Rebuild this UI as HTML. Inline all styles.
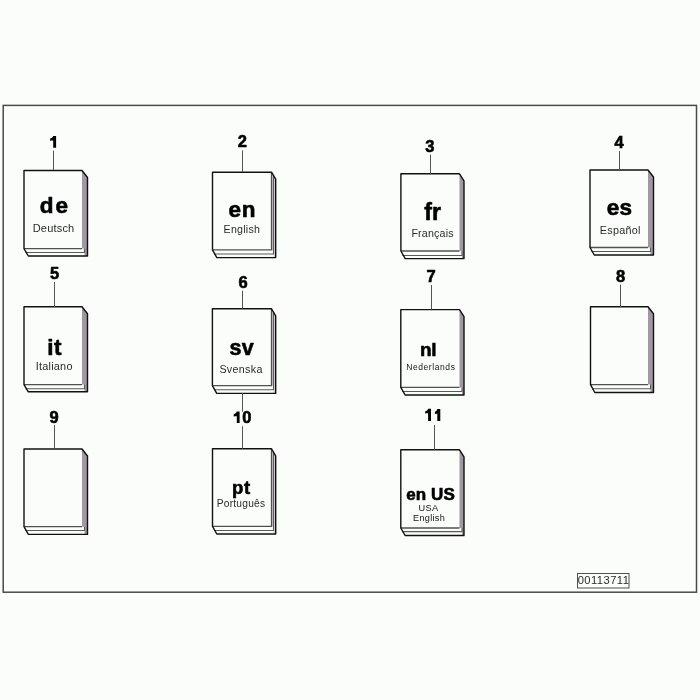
<!DOCTYPE html>
<html><head><meta charset="utf-8"><style>
html,body{margin:0;padding:0;background:#fbfdfb;}
svg{display:block;will-change:transform;font-family:"Liberation Sans",sans-serif;}
</style></head><body>
<svg width="700" height="700" viewBox="0 0 700 700">
<rect width="700" height="700" fill="#fbfdfb"/>
<rect x="3.2" y="105.4" width="693.3" height="486.8" fill="none" stroke="#4a4a4a" stroke-width="1.5"/>
<path d="M82,170.5 L87.5,177.5 V256 H84.5 V248.6 H82 Z" fill="#a098a0"/>
<path d="M25.5,252.5 H84.5 V248.6" fill="none" stroke="#5a5a5a" stroke-width="1.1"/>
<path d="M24,248.6 H82" fill="none" stroke="#505050" stroke-width="1.3"/>
<path d="M24,170.5 H82 L87.5,177.5 V256 H28.3 L24,248.6 Z" fill="none" stroke="#111" stroke-width="1.4" stroke-linejoin="round"/>
<path d="M271.5,172.2 L275.7,179.2 V257.6 H273.5 V249.9 H271.5 Z" fill="#d4d0d4"/>
<path d="M214.0,254 H273.5 V176.2" fill="none" stroke="#5a5a5a" stroke-width="1.1"/>
<path d="M271.5,172.2 V249.9 H212.5" fill="none" stroke="#505050" stroke-width="1.3"/>
<path d="M212.5,172.2 H271.5 L275.7,179.2 V257.6 H216.8 L212.5,249.9 Z" fill="none" stroke="#111" stroke-width="1.4" stroke-linejoin="round"/>
<path d="M459.5,173.8 L464,180.8 V258.6 H462.0 V251 H459.5 Z" fill="#a098a0"/>
<path d="M402.4,255.5 H462.0 V251" fill="none" stroke="#5a5a5a" stroke-width="1.1"/>
<path d="M400.9,251 H459.5" fill="none" stroke="#505050" stroke-width="1.3"/>
<path d="M400.9,173.8 H459.5 L464,180.8 V258.6 H405.2 L400.9,251 Z" fill="none" stroke="#111" stroke-width="1.4" stroke-linejoin="round"/>
<path d="M648,170 L653.5,177.0 V255 H650.5 V247.5 H648 Z" fill="#a098a0"/>
<path d="M591.5,251.5 H650.5 V247.5" fill="none" stroke="#5a5a5a" stroke-width="1.1"/>
<path d="M590,247.5 H648" fill="none" stroke="#505050" stroke-width="1.3"/>
<path d="M590,170 H648 L653.5,177.0 V255 H594.3 L590,247.5 Z" fill="none" stroke="#111" stroke-width="1.4" stroke-linejoin="round"/>
<path d="M82,306.8 L87.5,313.8 V391.8 H84.5 V384.6 H82 Z" fill="#a098a0"/>
<path d="M25.5,388.8 H84.5 V384.6" fill="none" stroke="#5a5a5a" stroke-width="1.1"/>
<path d="M24,384.6 H82" fill="none" stroke="#505050" stroke-width="1.3"/>
<path d="M24,306.8 H82 L87.5,313.8 V391.8 H28.3 L24,384.6 Z" fill="none" stroke="#111" stroke-width="1.4" stroke-linejoin="round"/>
<path d="M271.5,308.8 L275.7,315.8 V393.4 H273.5 V385.6 H271.5 Z" fill="#d4d0d4"/>
<path d="M213.9,389.8 H273.5 V312.8" fill="none" stroke="#5a5a5a" stroke-width="1.1"/>
<path d="M271.5,308.8 V385.6 H212.4" fill="none" stroke="#505050" stroke-width="1.3"/>
<path d="M212.4,308.8 H271.5 L275.7,315.8 V393.4 H216.70000000000002 L212.4,385.6 Z" fill="none" stroke="#111" stroke-width="1.4" stroke-linejoin="round"/>
<path d="M459.5,309.6 L464,316.6 V395 H462.0 V387.4 H459.5 Z" fill="#a098a0"/>
<path d="M402.3,391.5 H462.0 V387.4" fill="none" stroke="#5a5a5a" stroke-width="1.1"/>
<path d="M400.8,387.4 H459.5" fill="none" stroke="#505050" stroke-width="1.3"/>
<path d="M400.8,309.6 H459.5 L464,316.6 V395 H405.1 L400.8,387.4 Z" fill="none" stroke="#111" stroke-width="1.4" stroke-linejoin="round"/>
<path d="M648,306.7 L653.5,313.7 V392.5 H650.5 V384.6 H648 Z" fill="#a098a0"/>
<path d="M592.0,388.8 H650.5 V384.6" fill="none" stroke="#5a5a5a" stroke-width="1.1"/>
<path d="M590.5,384.6 H648" fill="none" stroke="#505050" stroke-width="1.3"/>
<path d="M590.5,306.7 H648 L653.5,313.7 V392.5 H594.8 L590.5,384.6 Z" fill="none" stroke="#111" stroke-width="1.4" stroke-linejoin="round"/>
<path d="M82,449 L87.5,456.0 V534.4 H84.5 V526.7 H82 Z" fill="#a098a0"/>
<path d="M25.5,530.5 H84.5 V526.7" fill="none" stroke="#5a5a5a" stroke-width="1.1"/>
<path d="M24,526.7 H82" fill="none" stroke="#505050" stroke-width="1.3"/>
<path d="M24,449 H82 L87.5,456.0 V534.4 H28.3 L24,526.7 Z" fill="none" stroke="#111" stroke-width="1.4" stroke-linejoin="round"/>
<path d="M271.5,448.8 L275.7,455.8 V534 H273.5 V526.4 H271.5 Z" fill="#d4d0d4"/>
<path d="M214.0,530.5 H273.5 V452.8" fill="none" stroke="#5a5a5a" stroke-width="1.1"/>
<path d="M271.5,448.8 V526.4 H212.5" fill="none" stroke="#505050" stroke-width="1.3"/>
<path d="M212.5,448.8 H271.5 L275.7,455.8 V534 H216.8 L212.5,526.4 Z" fill="none" stroke="#111" stroke-width="1.4" stroke-linejoin="round"/>
<path d="M459.5,449.8 L464,456.8 V535.5 H462.0 V528 H459.5 Z" fill="#a098a0"/>
<path d="M402.3,531.6 H462.0 V528" fill="none" stroke="#5a5a5a" stroke-width="1.1"/>
<path d="M400.8,528 H459.5" fill="none" stroke="#505050" stroke-width="1.3"/>
<path d="M400.8,449.8 H459.5 L464,456.8 V535.5 H405.1 L400.8,528 Z" fill="none" stroke="#111" stroke-width="1.4" stroke-linejoin="round"/>
<line x1="53.5" y1="150.6" x2="53.5" y2="170" stroke="#555" stroke-width="1"/>
<line x1="242.5" y1="150.4" x2="242.5" y2="172" stroke="#555" stroke-width="1"/>
<line x1="430.5" y1="154.6" x2="430.5" y2="173.6" stroke="#555" stroke-width="1"/>
<line x1="619.5" y1="151" x2="619.5" y2="170" stroke="#555" stroke-width="1"/>
<line x1="54.5" y1="282" x2="54.5" y2="307" stroke="#555" stroke-width="1"/>
<line x1="242.5" y1="290.7" x2="242.5" y2="308.6" stroke="#555" stroke-width="1"/>
<line x1="431.5" y1="285" x2="431.5" y2="309.5" stroke="#555" stroke-width="1"/>
<line x1="620.5" y1="284.6" x2="620.5" y2="307" stroke="#555" stroke-width="1"/>
<line x1="54.5" y1="425.1" x2="54.5" y2="448.7" stroke="#555" stroke-width="1"/>
<line x1="242.5" y1="426.3" x2="242.5" y2="448.8" stroke="#555" stroke-width="1"/>
<line x1="242.5" y1="393" x2="242.5" y2="411.7" stroke="#555" stroke-width="1"/>
<line x1="434.5" y1="425.1" x2="434.5" y2="449.9" stroke="#555" stroke-width="1"/>
<rect x="577.5" y="573.5" width="51.5" height="14.5" fill="none" stroke="#505050" stroke-width="1"/>
<path d="M56.1,136 V147.8 H53.2 V140.6 C52.400000000000006,140.5 50.9,140.7 50.1,140.8 V138.6 C51.6,138.4 52.7,137.2 53.2,136 Z" fill="#000"/>
<path d="M239.6,411.6 V423.1 H236.8 V416.20000000000005 C236.0,416.1 234.5,416.3 233.7,416.40000000000003 V414.20000000000005 C235.2,414.0 236.3,412.8 236.8,411.6 Z" fill="#000"/>
<path d="M431,408.7 V420.9 H428.1 V413.3 C427.3,413.2 426.0,413.4 425.2,413.5 V411.3 C426.7,411.09999999999997 427.6,409.9 428.1,408.7 Z" fill="#000"/>
<path d="M440.3,409.1 V421 H437.3 V413.70000000000005 C436.5,413.6 435.7,413.8 434.9,413.90000000000003 V411.70000000000005 C436.4,411.5 436.8,410.3 437.3,409.1 Z" fill="#000"/>
<text x="39.80" y="213.40" font-size="22.5" font-weight="bold" fill="#000" letter-spacing="1.90" stroke="#000" stroke-width="0.6" stroke-linejoin="round">de</text>
<text x="32.70" y="231.60" font-size="11" font-weight="normal" fill="#2a2a2a" letter-spacing="0.20">Deutsch</text>
<text x="228.40" y="217.20" font-size="22.5" font-weight="bold" fill="#000" letter-spacing="0.94" stroke="#000" stroke-width="0.6" stroke-linejoin="round">en</text>
<text x="223.60" y="233.20" font-size="10.6" font-weight="normal" fill="#2a2a2a" letter-spacing="0.26">English</text>
<text x="424.20" y="220.40" font-size="23" font-weight="bold" fill="#000" letter-spacing="0.18" stroke="#000" stroke-width="0.6" stroke-linejoin="round">fr</text>
<text x="411.40" y="236.70" font-size="10.7" font-weight="normal" fill="#2a2a2a" letter-spacing="0.17">Français</text>
<text x="606.80" y="215.00" font-size="22.5" font-weight="bold" fill="#000" letter-spacing="0.18" stroke="#000" stroke-width="0.6" stroke-linejoin="round">es</text>
<text x="599.80" y="234.00" font-size="10.8" font-weight="normal" fill="#2a2a2a" letter-spacing="0.28">Español</text>
<text x="47.20" y="355.00" font-size="22.5" font-weight="bold" fill="#000" letter-spacing="0.64" stroke="#000" stroke-width="0.6" stroke-linejoin="round">it</text>
<text x="35.80" y="370.30" font-size="10.9" font-weight="normal" fill="#2a2a2a" letter-spacing="0.22">Italiano</text>
<text x="229.50" y="355.40" font-size="21.5" font-weight="bold" fill="#000" letter-spacing="0.30" stroke="#000" stroke-width="0.6" stroke-linejoin="round">sv</text>
<text x="219.40" y="372.50" font-size="10.7" font-weight="normal" fill="#2a2a2a" letter-spacing="0.34">Svenska</text>
<text x="419.90" y="356.00" font-size="19" font-weight="bold" fill="#000" letter-spacing="-0.16" stroke="#000" stroke-width="0.6" stroke-linejoin="round">nl</text>
<text x="406.20" y="370.20" font-size="8.5" font-weight="normal" fill="#151515" letter-spacing="0.58">Nederlands</text>
<text x="231.90" y="494.30" font-size="18.5" font-weight="bold" fill="#000" letter-spacing="0.76" stroke="#000" stroke-width="0.6" stroke-linejoin="round">pt</text>
<text x="216.70" y="506.50" font-size="10.2" font-weight="normal" fill="#2a2a2a" letter-spacing="0.24">Português</text>
<text x="406.20" y="500.40" font-size="17" font-weight="bold" fill="#000" letter-spacing="0.11" stroke="#000" stroke-width="0.6" stroke-linejoin="round">en US</text>
<text x="418.60" y="511.40" font-size="9.2" font-weight="normal" fill="#151515" letter-spacing="0.38">USA</text>
<text x="413.00" y="520.70" font-size="9.2" font-weight="normal" fill="#151515" letter-spacing="0.27">English</text>
<text x="237.70" y="147.08" font-size="16.5" font-weight="bold" fill="#000" stroke="#000" stroke-width="0.6" stroke-linejoin="round">2</text>
<text x="425.30" y="151.88" font-size="16.5" font-weight="bold" fill="#000" stroke="#000" stroke-width="0.6" stroke-linejoin="round">3</text>
<text x="614.50" y="147.88" font-size="16.5" font-weight="bold" fill="#000" stroke="#000" stroke-width="0.6" stroke-linejoin="round">4</text>
<text x="50.10" y="279.18" font-size="16.5" font-weight="bold" fill="#000" stroke="#000" stroke-width="0.6" stroke-linejoin="round">5</text>
<text x="238.40" y="287.68" font-size="16.5" font-weight="bold" fill="#000" stroke="#000" stroke-width="0.6" stroke-linejoin="round">6</text>
<text x="426.40" y="282.28" font-size="16.5" font-weight="bold" fill="#000" stroke="#000" stroke-width="0.6" stroke-linejoin="round">7</text>
<text x="616.10" y="281.68" font-size="16.5" font-weight="bold" fill="#000" stroke="#000" stroke-width="0.6" stroke-linejoin="round">8</text>
<text x="49.50" y="422.68" font-size="16.5" font-weight="bold" fill="#000" stroke="#000" stroke-width="0.6" stroke-linejoin="round">9</text>
<text x="577.70" y="584.26" font-size="11.2" font-weight="normal" fill="#2a2a2a" letter-spacing="0.44">00113711</text>
<text x="242.30" y="423.00" font-size="16.5" font-weight="bold" fill="#000" stroke="#000" stroke-width="0.6" stroke-linejoin="round">0</text>
</svg>
</body></html>
